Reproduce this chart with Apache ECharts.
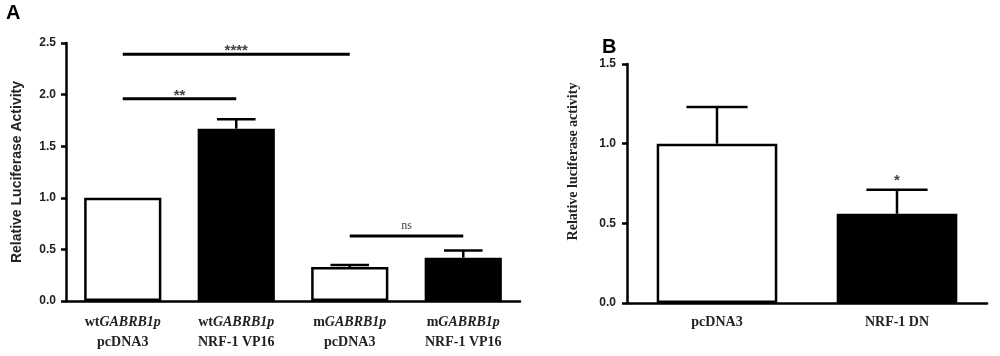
<!DOCTYPE html>
<html>
<head>
<meta charset="utf-8">
<script src="https://cdn.jsdelivr.net/npm/echarts@6/dist/echarts.min.js"></script>
<style>
  html, body { margin: 0; padding: 0; background: #fff; }
  #chart { width: 1000px; height: 356px; }
</style>
</head>
<body>
<div id="chart"></div>
<script>
// panel A
const catsA = ['wtGABRB1p\npcDNA3', 'wtGABRB1p\nNRF-1 VP16', 'mGABRB1p\npcDNA3', 'mGABRB1p\nNRF-1 VP16'];
const meanA = [1.0, 1.67, 0.33, 0.42];
const errA = [0, 0.09, 0.02, 0.07];
const fillA = ['#fff', '#000', '#fff', '#000'];
const ticksA = [0, 0.5, 1.0, 1.5, 2.0, 2.5];
// significance brackets: [from cat, to cat, y, mark]
const sigA = [[0, 2, 2.39, '****'], [0, 1, 1.96, '**'], [2, 3, 0.63, 'ns']];

// panel B
const catsB = ['pcDNA3', 'NRF-1 DN'];
const meanB = [1.0, 0.56];
const errB = [0.23, 0.15];
const fillB = ['#fff', '#000'];
const ticksB = [0, 0.5, 1.0, 1.5];
const sigB = ['', '*'];

const myChart = echarts.init(document.getElementById('chart'), null, {renderer: 'canvas'});

const axisLineStyle = {color: '#000', width: 2.5};
const tickLabel = {color: '#222', fontFamily: 'Arial, Liberation Sans', fontWeight: 'bold', fontSize: 12,
  formatter: v => v.toFixed(1)};

function catLabel(v) {
  const m = v.match(/^(wt|m)(GABRB1p)\n(.*)$/);
  if (m) return m[1] + '{it|' + m[2] + '}\n' + m[3];
  return v;
}

function errorItem(params, api) {
  const x = api.value(0), v = api.value(1), e = api.value(2);
  if (!e) return null;
  const base = api.coord([x, v]);
  const top = api.coord([x, v + e]);
  const half = api.size([1, 0])[0] * 0.17;
  const style = {stroke: '#000', lineWidth: 2.5};
  return {type: 'group', children: [
    {type: 'line', shape: {x1: base[0], y1: base[1], x2: top[0], y2: top[1]}, style},
    {type: 'line', shape: {x1: top[0] - half, y1: top[1], x2: top[0] + half, y2: top[1]}, style}
  ]};
}

function sigItem(params, api) {
  const a = api.coord([api.value(0), api.value(2)]);
  const b = api.coord([api.value(1), api.value(2)]);
  const txt = sigA[params.dataIndex][3];
  const isNs = txt === 'ns';
  return {type: 'group', children: [
    {type: 'line', shape: {x1: a[0], y1: a[1], x2: b[0], y2: b[1]}, style: {stroke: '#000', lineWidth: 3}},
    {type: 'text', x: (a[0] + b[0]) / 2, y: a[1] - (isNs ? 10 : 3),
      style: {text: txt, fill: '#444', font: isNs ? '12px Liberation Serif' : 'bold 15px Arial',
        align: 'center', verticalAlign: 'middle'}}
  ]};
}

function starItem(params, api) {
  const x = api.value(0), v = api.value(1), e = api.value(2);
  const p = api.coord([x, v + e]);
  return {type: 'text', x: p[0], y: p[1] - 9,
    style: {text: sigB[params.dataIndex], fill: '#444', font: 'bold 15px Arial', align: 'center', verticalAlign: 'middle'}};
}

myChart.setOption({
  animation: false,
  backgroundColor: '#fff',
  graphic: [
    {type: 'text', left: 6, top: 3, style: {text: 'A', font: 'bold 20px Arial', fill: '#000'}},
    {type: 'text', left: 602, top: 37, style: {text: 'B', font: 'bold 20px Arial', fill: '#000'}}
  ],
  grid: [
    {left: 66, top: 43, width: 454, height: 258},
    {left: 627, top: 64, width: 360, height: 239}
  ],
  xAxis: [
    {type: 'category', gridIndex: 0, data: catsA,
      axisLine: {lineStyle: axisLineStyle},
      axisTick: {alignWithLabel: true, length: 5, lineStyle: axisLineStyle},
      axisLabel: {interval: 0, margin: 11, formatter: catLabel, color: '#222',
        fontFamily: 'Liberation Serif', fontWeight: 'bold', fontSize: 14, lineHeight: 20,
        rich: {it: {fontStyle: 'italic', fontWeight: 'bold', fontFamily: 'Liberation Serif', fontSize: 14, color: '#222'}}}},
    {type: 'category', gridIndex: 1, data: catsB,
      axisLine: {lineStyle: axisLineStyle},
      axisTick: {alignWithLabel: true, length: 5, lineStyle: axisLineStyle},
      axisLabel: {interval: 0, margin: 12, color: '#222',
        fontFamily: 'Liberation Serif', fontWeight: 'bold', fontSize: 14}}
  ],
  yAxis: [
    {type: 'value', gridIndex: 0, min: ticksA[0], max: ticksA[ticksA.length - 1], interval: 0.5,
      name: 'Relative Luciferase Activity', nameLocation: 'middle', nameGap: 42,
      nameTextStyle: {fontFamily: 'Arial, Liberation Sans', fontWeight: 'bold', fontSize: 14, color: '#222'},
      axisLine: {show: true, lineStyle: axisLineStyle},
      axisTick: {show: true, length: 5, lineStyle: axisLineStyle},
      axisLabel: Object.assign({margin: 10}, tickLabel),
      splitLine: {show: false}},
    {type: 'value', gridIndex: 1, min: ticksB[0], max: ticksB[ticksB.length - 1], interval: 0.5,
      name: 'Relative luciferase activity', nameLocation: 'middle', nameGap: 47,
      nameTextStyle: {fontFamily: 'Liberation Serif', fontWeight: 'bold', fontSize: 14, color: '#222',
        padding: [0, 0, 0, 44]},
      axisLine: {show: true, lineStyle: axisLineStyle},
      axisTick: {show: true, length: 5, lineStyle: axisLineStyle},
      axisLabel: Object.assign({margin: 11}, tickLabel),
      splitLine: {show: false}}
  ],
  series: [
    {type: 'bar', xAxisIndex: 0, yAxisIndex: 0, barWidth: '68%',
      data: meanA.map((v, i) => ({value: v, itemStyle: {color: fillA[i], borderColor: '#000', borderWidth: 2.5}}))},
    {type: 'custom', xAxisIndex: 0, yAxisIndex: 0, renderItem: errorItem,
      data: meanA.map((v, i) => [i, v, errA[i]]), z: 3},
    {type: 'custom', xAxisIndex: 0, yAxisIndex: 0, renderItem: sigItem,
      data: sigA.map(s => [s[0], s[1], s[2]]), z: 3},
    {type: 'bar', xAxisIndex: 1, yAxisIndex: 1, barWidth: '67%',
      data: meanB.map((v, i) => ({value: v, itemStyle: {color: fillB[i], borderColor: '#000', borderWidth: 2.5}}))},
    {type: 'custom', xAxisIndex: 1, yAxisIndex: 1, renderItem: errorItem,
      data: meanB.map((v, i) => [i, v, errB[i]]), z: 3},
    {type: 'custom', xAxisIndex: 1, yAxisIndex: 1, renderItem: starItem,
      data: meanB.map((v, i) => [i, v, errB[i]]), z: 3}
  ]
});

window.addEventListener('resize', function() {
  myChart.resize();
});
</script>
</body>
</html>
